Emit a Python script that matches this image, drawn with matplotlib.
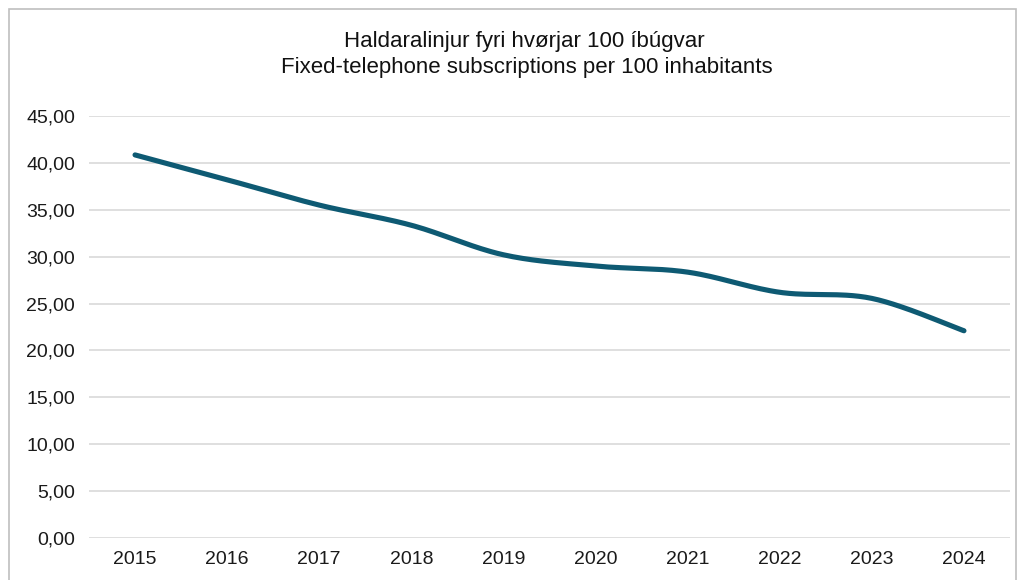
import numpy as np
import matplotlib
matplotlib.use("Agg")
import matplotlib.pyplot as plt
from matplotlib.patches import Rectangle
from matplotlib.ticker import FuncFormatter

# Данные графика
years = ["2015", "2016", "2017", "2018", "2019", "2020", "2021", "2022", "2023", "2024"]
values = [40.85, 38.2, 35.5, 33.35, 30.2, 29.0, 28.35, 26.2, 25.55, 22.1]
title_fo = "Haldaralinjur fyri hvørjar 100 íbúgvar"
title_en = "Fixed-telephone subscriptions per 100 inhabitants"

plt.rcParams["font.family"] = ["Liberation Sans", "DejaVu Sans"]


def smooth_curve(x, y, steps=30):
    # Сглаживание как в Excel (Catmull-Rom через кривые Безье)
    x = np.asarray(x, float)
    y = np.asarray(y, float)
    px = np.concatenate([[x[0]], x, [x[-1]]])
    py = np.concatenate([[y[0]], y, [y[-1]]])
    xs, ys = [], []
    t = np.linspace(0, 1, steps)
    for i in range(1, len(px) - 2):
        p0 = np.array([px[i], py[i]])
        p3 = np.array([px[i + 1], py[i + 1]])
        p1 = p0 + (np.array([px[i + 1], py[i + 1]]) - np.array([px[i - 1], py[i - 1]])) / 6
        p2 = p3 - (np.array([px[i + 2], py[i + 2]]) - np.array([px[i], py[i]])) / 6
        b = ((1 - t) ** 3)[:, None] * p0 + (3 * (1 - t) ** 2 * t)[:, None] * p1 \
            + (3 * (1 - t) * t ** 2)[:, None] * p2 + (t ** 3)[:, None] * p3
        xs.extend(b[:, 0])
        ys.extend(b[:, 1])
    return xs, ys


fig = plt.figure(figsize=(10.25, 5.8), dpi=100)
fig.patches.append(Rectangle((9 / 1025, -0.05), 1007 / 1025, 1 - 9 / 580 + 0.05,
                             transform=fig.transFigure, fill=False,
                             edgecolor="#BFBFBF", linewidth=1.2))

ax = fig.add_axes([89 / 1025, 1 - 538 / 580, 921 / 1025, 422 / 580])
pos = np.arange(len(years))
sx, sy = smooth_curve(pos, values)
ax.plot(sx, sy, color="#0E5A73", linewidth=3.7, solid_capstyle="round", zorder=3)

ax.set_xlim(-0.5, len(years) - 0.5)
ax.set_ylim(0, 45)
ax.set_yticks(np.arange(0, 46, 5))
ax.yaxis.set_major_formatter(FuncFormatter(lambda v, _: f"{v:.2f}".replace(".", ",")))
ax.set_xticks(pos)
ax.set_xticklabels(years)
ax.tick_params(axis="both", length=0, labelsize=14, colors="#1A1A1A")
ax.tick_params(axis="y", pad=10)
ax.tick_params(axis="x", pad=9)
ax.grid(axis="y", color="#D9D9D9", linewidth=1.2)
ax.set_axisbelow(True)
for s in ax.spines.values():
    s.set_visible(False)

fig.text(524 / 1025, 1 - 42 / 580, title_fo, ha="center", va="center", fontsize=16, color="#111111")
fig.text(527 / 1025, 1 - 68 / 580, title_en, ha="center", va="center", fontsize=16, color="#111111")

fig.savefig("out.png", dpi=100)
